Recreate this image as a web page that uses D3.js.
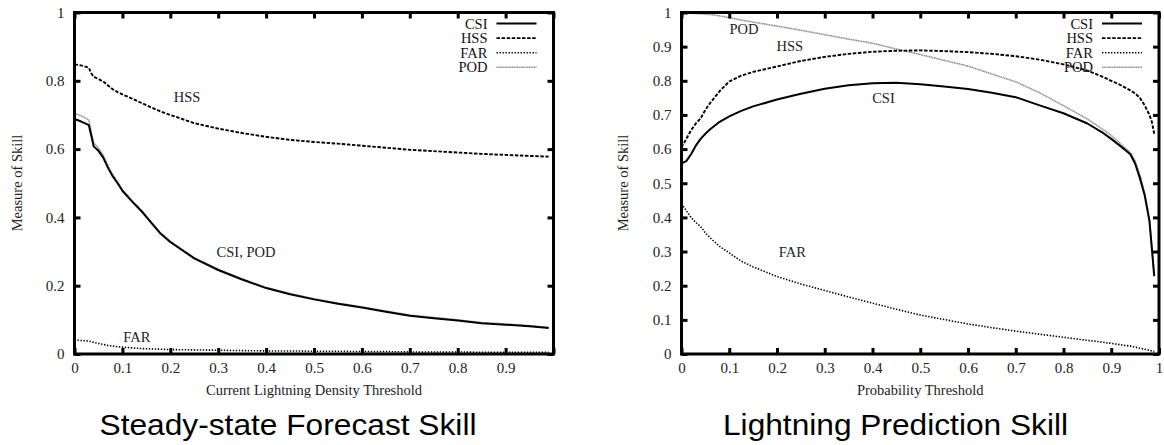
<!DOCTYPE html>
<html><head><meta charset="utf-8">
<script src="https://cdn.jsdelivr.net/npm/d3@7"></script>
<style>
html,body{margin:0;padding:0;background:#fff;}
svg{display:block;}
</style></head>
<body>
<svg id="chart" width="1164" height="445"></svg>
<script>
// ---------- DATA ----------
const seriesNames = ["CSI", "HSS", "FAR", "POD"];

// Left panel: Steady-state Forecast Skill
const leftX = [0, 0.01, 0.02, 0.03, 0.035, 0.04, 0.05, 0.06, 0.07, 0.08, 0.09, 0.1, 0.12, 0.14, 0.16, 0.18, 0.2, 0.25, 0.3, 0.35, 0.4, 0.45, 0.5, 0.55, 0.6, 0.65, 0.7, 0.75, 0.8, 0.85, 0.9, 0.95, 0.99];
const leftCSI = [0.688, 0.683, 0.677, 0.670, 0.640, 0.608, 0.595, 0.575, 0.545, 0.520, 0.500, 0.478, 0.447, 0.418, 0.385, 0.352, 0.328, 0.280, 0.246, 0.218, 0.193, 0.175, 0.160, 0.147, 0.136, 0.124, 0.112, 0.105, 0.098, 0.090, 0.086, 0.081, 0.076];
const leftHSS = [0.848, 0.846, 0.843, 0.838, 0.822, 0.812, 0.805, 0.798, 0.786, 0.775, 0.767, 0.760, 0.748, 0.735, 0.722, 0.710, 0.700, 0.676, 0.660, 0.647, 0.636, 0.627, 0.621, 0.616, 0.610, 0.604, 0.598, 0.594, 0.590, 0.586, 0.583, 0.580, 0.578];
const leftFAR = [0.041, 0.040, 0.039, 0.038, 0.036, 0.034, 0.031, 0.028, 0.025, 0.023, 0.021, 0.020, 0.018, 0.016, 0.015, 0.014, 0.013, 0.012, 0.011, 0.010, 0.009, 0.009, 0.008, 0.008, 0.007, 0.007, 0.006, 0.006, 0.006, 0.005, 0.005, 0.005, 0.005];
const leftPOD = [0.705, 0.700, 0.693, 0.685, 0.650, 0.618, 0.603, 0.582, 0.551, 0.525, 0.504, 0.481, 0.449, 0.420, 0.387, 0.354, 0.330, 0.282, 0.248, 0.220, 0.195, 0.177, 0.162, 0.149, 0.138, 0.126, 0.114, 0.107, 0.100, 0.092, 0.088, 0.083, 0.078];

// Right panel: Lightning Prediction Skill
const rightX = [0, 0.01, 0.02, 0.03, 0.04, 0.05, 0.06, 0.08, 0.1, 0.125, 0.15, 0.2, 0.25, 0.3, 0.35, 0.4, 0.45, 0.5, 0.55, 0.6, 0.65, 0.7, 0.75, 0.8, 0.85, 0.88, 0.9, 0.92, 0.94, 0.95, 0.96, 0.97, 0.98, 0.985, 0.99];
const rightCSI = [0.558, 0.565, 0.585, 0.610, 0.630, 0.645, 0.658, 0.680, 0.696, 0.712, 0.725, 0.745, 0.762, 0.777, 0.787, 0.793, 0.794, 0.790, 0.783, 0.776, 0.765, 0.752, 0.728, 0.705, 0.675, 0.650, 0.630, 0.608, 0.585, 0.558, 0.515, 0.465, 0.390, 0.310, 0.228];
const rightHSS = [0.605, 0.630, 0.655, 0.675, 0.690, 0.715, 0.735, 0.770, 0.798, 0.815, 0.826, 0.842, 0.858, 0.870, 0.879, 0.885, 0.888, 0.889, 0.887, 0.884, 0.879, 0.872, 0.862, 0.848, 0.830, 0.813, 0.800, 0.787, 0.772, 0.763, 0.750, 0.728, 0.700, 0.680, 0.645];
const rightFAR = [0.440, 0.420, 0.400, 0.385, 0.373, 0.355, 0.340, 0.315, 0.296, 0.272, 0.255, 0.227, 0.205, 0.186, 0.167, 0.149, 0.131, 0.114, 0.101, 0.088, 0.077, 0.067, 0.058, 0.049, 0.040, 0.035, 0.031, 0.027, 0.023, 0.020, 0.017, 0.014, 0.011, 0.009, 0.007];
const rightPOD = [1.000, 0.999, 0.998, 0.997, 0.996, 0.995, 0.994, 0.990, 0.985, 0.978, 0.972, 0.960, 0.948, 0.935, 0.922, 0.910, 0.893, 0.877, 0.860, 0.843, 0.820, 0.797, 0.765, 0.727, 0.688, 0.660, 0.640, 0.615, 0.590, 0.565, 0.525, 0.472, 0.392, 0.312, 0.230];

const xTicks = [0, 0.1, 0.2, 0.3, 0.4, 0.5, 0.6, 0.7, 0.8, 0.9, 1];
const leftYTicks = [0, 0.2, 0.4, 0.6, 0.8, 1];
const rightYTicks = [0, 0.1, 0.2, 0.3, 0.4, 0.5, 0.6, 0.7, 0.8, 0.9, 1];
const leftXLabels = ["0", "0.1", "0.2", "0.3", "0.4", "0.5", "0.6", "0.7", "0.8", "0.9", ""];
const rightXLabels = ["0", "0.1", "0.2", "0.3", "0.4", "0.5", "0.6", "0.7", "0.8", "0.9", "1"];
const leftYLabels = ["0", "0.2", "0.4", "0.6", "0.8", "1"];
const rightYLabels = ["0", "0.1", "0.2", "0.3", "0.4", "0.5", "0.6", "0.7", "0.8", "0.9", "1"];

// ---------- STYLES ----------
const styles = {
  CSI: {stroke: "#000", width: 2, dash: null},
  HSS: {stroke: "#000", width: 1.9, dash: "3.5,1.6"},
  FAR: {stroke: "#000", width: 1.6, dash: "1.4,1.6"},
  POD: {stroke: "#8c8c8c", width: 1.6, dash: "1.2,0.5"}
};
const serif = "'Liberation Serif','Times New Roman',serif";
const sans = "'Liberation Sans',Arial,Helvetica,sans-serif";

const svg = d3.select("#chart");

function panel(cfg) {
  const x = d3.scaleLinear().domain([0, 1]).range([cfg.x0, cfg.x1]);
  const y = d3.scaleLinear().domain([0, 1]).range([cfg.y0, cfg.y1]);
  const g = svg.append("g");
  const tickLen = 6;

  // curves
  const line = d3.line().x(d => x(d[0])).y(d => y(d[1]));
  cfg.series.forEach(s => {
    const st = styles[s.name];
    g.append("path")
      .datum(cfg.xs.map((v, i) => [v, s.values[i]]))
      .attr("d", line)
      .attr("fill", "none")
      .attr("stroke", st.stroke)
      .attr("stroke-width", st.width)
      .attr("stroke-dasharray", st.dash)
      .attr("stroke-linejoin", "round");
  });

  // axes via d3 axis (inward ticks, all four sides)
  const axB = d3.axisBottom(x).tickValues(cfg.xTicks).tickSize(-tickLen).tickFormat((d, i) => cfg.xLabels[i]).tickPadding(10);
  const axT = d3.axisTop(x).tickValues(cfg.xTicks).tickSize(-tickLen).tickFormat("");
  const axL = d3.axisLeft(y).tickValues(cfg.yTicks).tickSize(-tickLen).tickFormat((d, i) => cfg.yLabels[i]).tickPadding(10);
  const axR = d3.axisRight(y).tickValues(cfg.yTicks).tickSize(-tickLen).tickFormat("");

  const gb = g.append("g").attr("transform", `translate(0,${cfg.y0})`).call(axB);
  const gt = g.append("g").attr("transform", `translate(0,${cfg.y1})`).call(axT);
  const gl = g.append("g").attr("transform", `translate(${cfg.x0},0)`).call(axL);
  const gr = g.append("g").attr("transform", `translate(${cfg.x1},0)`).call(axR);
  [gb, gt, gl, gr].forEach(a => {
    a.select(".domain").remove();
    a.selectAll(".tick line").attr("stroke", "#000").attr("stroke-width", 3);
    a.selectAll(".tick text").attr("fill", "#222").style("font-family", serif).style("font-size", "15px");
  });
  gb.selectAll(".tick text").attr("dy", "0.6em");
  // box frame
  g.append("rect")
    .attr("x", cfg.x0).attr("y", cfg.y1)
    .attr("width", cfg.x1 - cfg.x0).attr("height", cfg.y0 - cfg.y1)
    .attr("fill", "none").attr("stroke", "#000").attr("stroke-width", 3);

  // axis titles
  g.append("text")
    .attr("x", (cfg.x0 + cfg.x1) / 2).attr("y", 395)
    .attr("text-anchor", "middle")
    .style("font-family", serif).style("font-size", "14.5px").attr("fill", "#222")
    .text(cfg.xTitle);
  g.append("text")
    .attr("transform", `translate(${cfg.yTitleX},183) rotate(-90)`)
    .attr("text-anchor", "middle").attr("dy", "0.35em")
    .style("font-family", serif).style("font-size", "14.5px").attr("fill", "#222")
    .text("Measure of Skill");

  // in-plot labels
  cfg.labels.forEach(l => {
    g.append("text")
      .attr("x", x(l.x)).attr("y", y(l.y))
      .attr("text-anchor", "middle").attr("dy", "0.35em")
      .style("font-family", serif).style("font-size", "14.5px").attr("fill", "#222")
      .text(l.t);
  });

  // legend
  seriesNames.forEach((n, i) => {
    const ly = 23.5 + i * 14.6;
    const st = styles[n];
    g.append("text")
      .attr("x", cfg.x1 - 66).attr("y", ly)
      .attr("text-anchor", "end").attr("dy", "0.35em")
      .style("font-family", serif).style("font-size", "14.5px").attr("fill", "#111")
      .text(n);
    g.append("line")
      .attr("x1", cfg.x1 - 57).attr("x2", cfg.x1 - 17)
      .attr("y1", ly).attr("y2", ly)
      .attr("stroke", st.stroke).attr("stroke-width", st.width)
      .attr("stroke-dasharray", st.dash);
  });

  // panel title
  svg.append("text")
    .attr("x", cfg.titleX).attr("y", 435)
    .attr("text-anchor", "middle")
    .attr("textLength", cfg.titleLen).attr("lengthAdjust", "spacingAndGlyphs")
    .style("font-family", sans).style("font-size", "29px").attr("fill", "#000")
    .text(cfg.title);
}

panel({
  x0: 74.5, x1: 553.5, y0: 354, y1: 12.5,
  xs: leftX,
  series: [
    {name: "FAR", values: leftFAR},
    {name: "POD", values: leftPOD},
    {name: "HSS", values: leftHSS},
    {name: "CSI", values: leftCSI}
  ],
  xTicks: xTicks, xLabels: leftXLabels,
  yTicks: leftYTicks, yLabels: leftYLabels,
  xTitle: "Current Lightning Density Threshold",
  yTitleX: 17,
  labels: [
    {t: "HSS", x: 0.235, y: 0.752},
    {t: "CSI, POD", x: 0.358, y: 0.3},
    {t: "FAR", x: 0.13, y: 0.05}
  ],
  title: "Steady-state Forecast Skill",
  titleX: 288, titleLen: 377
});

panel({
  x0: 681.5, x1: 1159, y0: 354, y1: 12.5,
  xs: rightX,
  series: [
    {name: "FAR", values: rightFAR},
    {name: "POD", values: rightPOD},
    {name: "HSS", values: rightHSS},
    {name: "CSI", values: rightCSI}
  ],
  xTicks: xTicks, xLabels: rightXLabels,
  yTicks: rightYTicks, yLabels: rightYLabels,
  xTitle: "Probability Threshold",
  yTitleX: 623,
  labels: [
    {t: "POD", x: 0.131, y: 0.953},
    {t: "HSS", x: 0.227, y: 0.903},
    {t: "CSI", x: 0.423, y: 0.751},
    {t: "FAR", x: 0.232, y: 0.3}
  ],
  title: "Lightning Prediction Skill",
  titleX: 895.5, titleLen: 345
});
</script>
</body></html>
